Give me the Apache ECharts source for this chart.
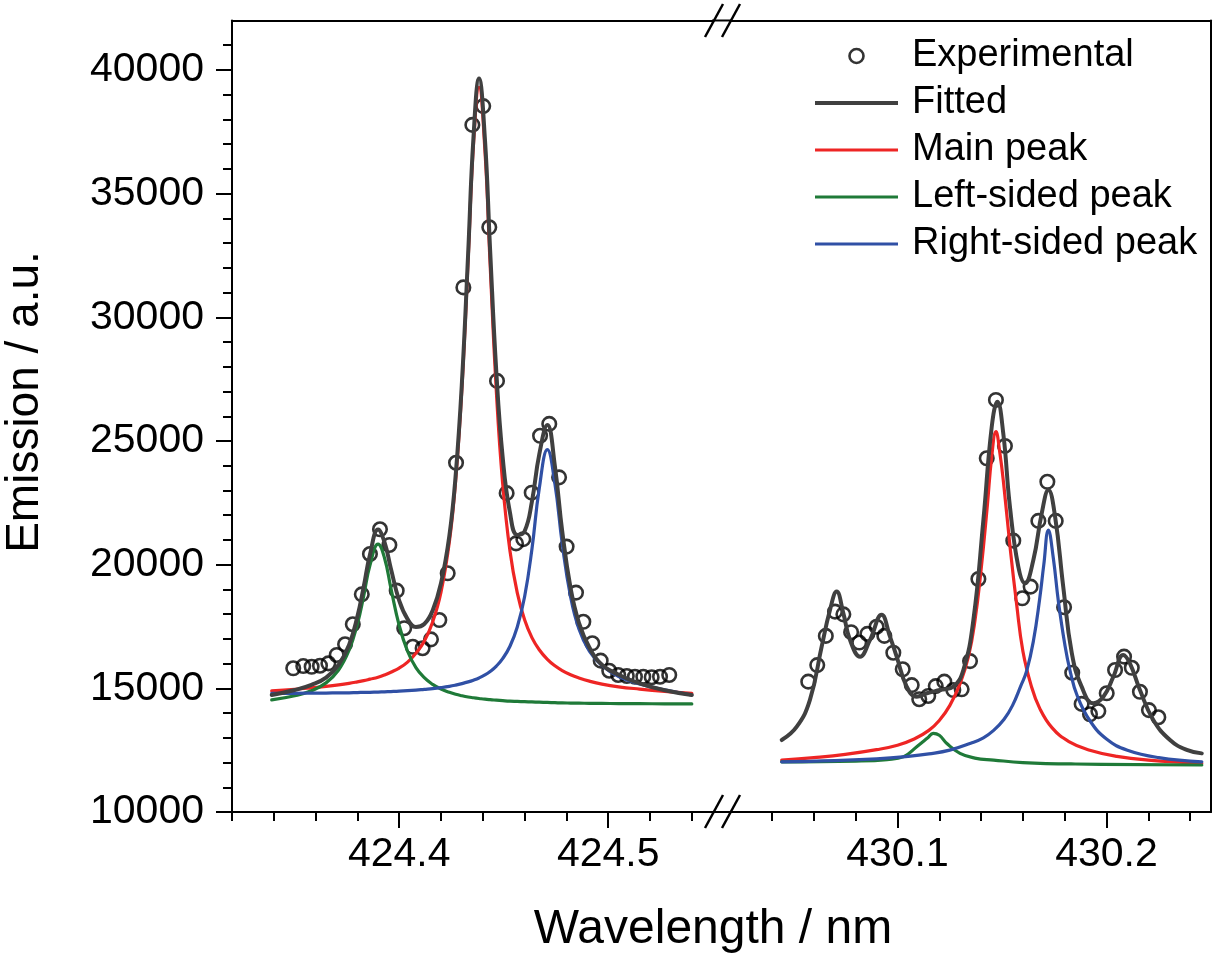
<!DOCTYPE html>
<html><head><meta charset="utf-8">
<script src="https://cdn.jsdelivr.net/npm/echarts@6/dist/echarts.min.js"></script>
<style>html,body{margin:0;padding:0;background:#fff}#c{width:1214px;height:955px}</style>
</head><body><div id="c"></div>
<script>
// ---------- data ----------
const legendNames = ['Experimental', 'Fitted', 'Main peak', 'Left-sided peak', 'Right-sided peak'];

// tick values
const xMajorLeft = [424.4, 424.5];
const xMinorLeft = [424.32, 424.34, 424.36, 424.38, 424.42, 424.44, 424.46, 424.48, 424.52, 424.54];
const xMajorRight = [430.1, 430.2];
const xMinorRight = [430.04, 430.06, 430.08, 430.12, 430.14, 430.16, 430.18, 430.22, 430.24];
const yMajor = [10000, 15000, 20000, 25000, 30000, 35000, 40000];
const yMinor = [11000, 12000, 13000, 14000, 16000, 17000, 18000, 19000, 21000, 22000, 23000, 24000,
  26000, 27000, 28000, 29000, 31000, 32000, 33000, 34000, 36000, 37000, 38000, 39000, 41000];

// experimental points, 424 nm region
const expLeftX = [424.3493, 424.3541, 424.3581, 424.3621, 424.3661, 424.3701, 424.3741, 424.3778, 424.3821, 424.3860,
  424.3908, 424.3953, 424.3988, 424.4024, 424.4065, 424.4112, 424.4152, 424.4192, 424.4232, 424.4272,
  424.4307, 424.4350, 424.4402, 424.4431, 424.4468, 424.4514, 424.4559, 424.4594, 424.4634, 424.4674,
  424.4718, 424.4765, 424.4801, 424.4846, 424.4881, 424.4924, 424.4964, 424.5005, 424.5048, 424.5089,
  424.5128, 424.5168, 424.5208, 424.5248, 424.5292];
const expLeftY = [15810, 15900, 15870, 15915, 16010, 16350, 16780, 17590, 18800, 20430,
  21430, 20795, 18950, 17430, 16680, 16620, 16980, 17760, 19650, 24120,
  31210, 37780, 38540, 33640, 27430, 22890, 20860, 21030, 22910, 25210,
  25690, 23530, 20730, 18870, 17690, 16820, 16120, 15710, 15540, 15500,
  15470, 15470, 15450, 15470, 15540];

// experimental points, 430 nm region
const expRightX = [430.0573, 430.0616, 430.0657, 430.0701, 430.0741, 430.0778, 430.0817, 430.0856, 430.0900, 430.0937,
  430.0980, 430.1025, 430.1068, 430.1104, 430.1147, 430.1183, 430.1224, 430.1267, 430.1307, 430.1347,
  430.1387, 430.1427, 430.1471, 430.1514, 430.1554, 430.1597, 430.1637, 430.1674, 430.1717, 430.1757,
  430.1797, 430.1836, 430.1881, 430.1921, 430.1961, 430.2001, 430.2041, 430.2084, 430.2121, 430.2160,
  430.2203, 430.2248];
const expRightY = [15270, 15940, 17120, 18100, 17990, 17270, 16850, 17200, 17490, 17120,
  16440, 15770, 15130, 14560, 14690, 15090, 15270, 14930, 14960, 16100,
  19420, 24300, 26660, 24800, 20970, 18640, 19110, 21770, 23350, 21770,
  18280, 15630, 14370, 13950, 14080, 14800, 15740, 16280, 15830, 14860,
  14120, 13830];

// curves, 424 nm region (shared wavelength samples)
const curveLeftX = [424.339, 424.350, 424.358, 424.365, 424.371, 424.376, 424.380, 424.383, 424.386, 424.3899,
  424.393, 424.396, 424.400, 424.404, 424.408, 424.412, 424.416, 424.420, 424.424, 424.427,
  424.430, 424.433, 424.4355, 424.4382, 424.441, 424.4435, 424.4465, 424.4495, 424.453, 424.4565,
  424.460, 424.4635, 424.467, 424.4709, 424.4745, 424.478, 424.482, 424.486, 424.491, 424.497,
  424.505, 424.515, 424.527, 424.540];
const fittedLeft = [14730, 14930, 15140, 15430, 15950, 16750, 17900, 19100, 20400, 21420,
  20900, 19850, 18550, 17800, 17480, 17600, 18150, 19250, 21170, 23600,
  27350, 32600, 37220, 39660, 37230, 32730, 27750, 24350, 22100, 21200,
  21350, 22550, 24450, 25650, 23980, 21350, 19050, 17650, 16650, 15950,
  15550, 15200, 14920, 14730];
const mainLeft = [14900, 14960, 15020, 15080, 15140, 15200, 15260, 15310, 15370, 15450,
  15540, 15650, 15820, 16060, 16420, 16900, 17680, 18890, 20920, 23390,
  27120, 32340, 36930, 39300, 36770, 32150, 26970, 23290, 20550, 18860,
  17770, 17050, 16560, 16170, 15910, 15720, 15550, 15420, 15290, 15170,
  15060, 14970, 14880, 14800];
const leftSidedLeft = [14530, 14700, 14900, 15220, 15740, 16540, 17600, 18730, 19970, 20830,
  20260, 19060, 17540, 16500, 15840, 15430, 15160, 14970, 14840, 14760,
  14700, 14650, 14620, 14590, 14560, 14540, 14520, 14500, 14480, 14470,
  14460, 14450, 14440, 14430, 14420, 14410, 14405, 14400, 14395, 14390,
  14385, 14380, 14375, 14370];
const rightSidedLeft = [14800, 14800, 14805, 14810, 14815, 14820, 14830, 14835, 14840, 14850,
  14860, 14870, 14885, 14905, 14930, 14960, 14990, 15030, 15080, 15130,
  15190, 15260, 15330, 15420, 15540, 15680, 15900, 16200, 16700, 17480,
  18700, 20620, 23070, 24650, 23270, 20850, 18700, 17400, 16500, 15920,
  15480, 15180, 14940, 14730];

// curves, 430 nm region
const fittedRightX = [430.0446, 430.0518, 430.0581, 430.0637, 430.0677, 430.0709, 430.0741, 430.0773, 430.0821, 430.0868,
  430.0924, 430.0964, 430.0996, 430.1044, 430.1092, 430.1140, 430.1203, 430.1267, 430.1315, 430.1363,
  430.1411, 430.1451, 430.1478, 430.1506, 430.1538, 430.1578, 430.1610, 430.1650, 430.1690, 430.1722,
  430.1754, 430.1793, 430.1834, 430.1881, 430.1937, 430.1985, 430.2033, 430.2080, 430.2112, 430.2160,
  430.2224, 430.2304, 430.2384, 430.2456];
const fittedRightY = [12910, 13450, 14530, 16680, 18170, 18910, 18030, 16950, 16280, 16950,
  17970, 17090, 16280, 15070, 14660, 14800, 14930, 15070, 15740, 17760,
  21810, 25580, 26590, 25310, 22340, 19920, 19250, 20190, 22070, 23020,
  21940, 19110, 16420, 15070, 14400, 14660, 15470, 16350, 16010, 14930,
  13720, 12910, 12510, 12370];
const mainRightX = [430.0446, 430.060, 430.075, 430.090, 430.100, 430.108, 430.115, 430.120, 430.125, 430.130,
  430.134, 430.137, 430.140, 430.143, 430.145, 430.1471, 430.149, 430.151, 430.154, 430.157,
  430.160, 430.164, 430.168, 430.174, 430.182, 430.192, 430.205, 430.220, 430.2456];
const mainRightY = [12100, 12200, 12330, 12520, 12700, 12950, 13300, 13700, 14300, 15200,
  16300, 17700, 19800, 22400, 24300, 25380, 24500, 23100, 20600, 18400,
  16500, 15100, 14200, 13400, 12850, 12500, 12250, 12100, 11970];
const leftSidedRightX = [430.0446, 430.080, 430.095, 430.103, 430.1092, 430.1145, 430.1171, 430.120, 430.1235, 430.1299,
  430.137, 430.146, 430.160, 430.185, 430.2456];
const leftSidedRightY = [12030, 12060, 12120, 12240, 12640, 13000, 13180, 13100, 12780, 12370,
  12180, 12100, 12000, 11940, 11900];
const rightSidedRightX = [430.0446, 430.070, 430.090, 430.105, 430.115, 430.125, 430.135, 430.1411, 430.146, 430.151,
  430.155, 430.159, 430.1618, 430.165, 430.168, 430.170, 430.1722, 430.1745, 430.177, 430.180,
  430.1826, 430.186, 430.192, 430.200, 430.210, 430.225, 430.2456];
const rightSidedRightY = [12030, 12080, 12150, 12250, 12350, 12500, 12780, 13000, 13300, 13750,
  14300, 15100, 15700, 16900, 18600, 20000, 21400, 20300, 18500, 16800,
  15700, 14700, 13700, 12950, 12500, 12200, 12030];

// ---------- chart ----------
const FONT = "'Liberation Sans', Arial, Helvetica, sans-serif";
const zip = (xs, ys) => xs.map((x, i) => [x, ys[i]]);
const COL = { fit: '#404040', main: '#ee2524', left: '#1f7a38', right: '#3050a5' };
const W_FIT = 4, W_COMP = 3.2;

const gridTop = 20.5, gridH = 791.5, segW = 480.7;
const axisLineStyle = { color: '#000', width: 2 };

function bottomMain(grid, min, max, major) {
  return {
    type: 'value', gridIndex: grid, min, max, position: 'bottom',
    axisLine: { show: true, onZero: false, lineStyle: axisLineStyle },
    axisTick: { show: true, customValues: major, length: 16, lineStyle: { color: '#000', width: 2 } },
    axisLabel: { show: true, customValues: major, fontSize: 41, fontFamily: FONT, color: '#000', margin: 22,
      formatter: v => Number(v).toFixed(1) },
    splitLine: { show: false }
  };
}
function bottomMinor(grid, min, max, minor) {
  return {
    type: 'value', gridIndex: grid, min, max, position: 'bottom',
    axisLine: { show: false, onZero: false },
    axisTick: { show: true, customValues: minor, length: 9, lineStyle: { color: '#000', width: 2 } },
    axisLabel: { show: false }, splitLine: { show: false }
  };
}
function topLine(grid, min, max) {
  return {
    type: 'value', gridIndex: grid, min, max, position: 'top',
    axisLine: { show: true, onZero: false, lineStyle: axisLineStyle },
    axisTick: { show: false }, axisLabel: { show: false }, splitLine: { show: false }
  };
}

const lineSeries = (name, xi, yi, data, color, width) => ({
  name, type: 'line', xAxisIndex: xi, yAxisIndex: yi, data,
  symbol: 'none', smooth: 0.45,
  lineStyle: { color: color, width: width, cap: 'round', join: 'round' }, itemStyle: { color: color },
  emphasis: { disabled: true }, silent: true, animation: false
});
const scatterSeries = (xi, yi, data) => ({
  name: 'Experimental', type: 'scatter', xAxisIndex: xi, yAxisIndex: yi, data,
  symbol: 'circle', symbolSize: 13.5,
  itemStyle: { color: 'rgba(255,255,255,0)', borderColor: '#000', borderWidth: 2.6 },
  emphasis: { disabled: true }, silent: true, animation: false
});

const ICON_THIN = 'path://M0,0H80V3H0Z';
const ICON_THICK = 'path://M0,0H80V4H0Z';

const option = {
  backgroundColor: '#fff',
  animation: false,
  grid: [
    { left: 232, top: gridTop, width: segW, height: gridH },
    { left: 730.3, top: gridTop, width: segW, height: gridH }
  ],
  xAxis: [
    bottomMain(0, 424.32, 424.55, xMajorLeft),
    bottomMinor(0, 424.32, 424.55, xMinorLeft),
    topLine(0, 424.32, 424.55),
    bottomMain(1, 430.02, 430.25, xMajorRight),
    bottomMinor(1, 430.02, 430.25, xMinorRight),
    topLine(1, 430.02, 430.25)
  ],
  yAxis: [
    {
      type: 'value', gridIndex: 0, min: 10000, max: 42000, position: 'left',
      axisLine: { show: true, onZero: false, lineStyle: axisLineStyle },
      axisTick: { show: true, customValues: yMajor, length: 16, lineStyle: { color: '#000', width: 2 } },
      axisLabel: { show: true, customValues: yMajor, fontSize: 41, fontFamily: FONT, color: '#000', margin: 28,
        formatter: v => String(Math.round(v)) },
      splitLine: { show: false }
    },
    {
      type: 'value', gridIndex: 0, min: 10000, max: 42000, position: 'left',
      axisLine: { show: false, onZero: false },
      axisTick: { show: true, customValues: yMinor, length: 9, lineStyle: { color: '#000', width: 2 } },
      axisLabel: { show: false }, splitLine: { show: false }
    },
    {
      type: 'value', gridIndex: 1, min: 10000, max: 42000, position: 'right',
      axisLine: { show: true, onZero: false, lineStyle: axisLineStyle },
      axisTick: { show: false }, axisLabel: { show: false }, splitLine: { show: false }
    }
  ],
  legend: {
    orient: 'vertical', left: 815, top: 36, padding: 0, itemWidth: 83, itemHeight: 14, itemGap: 7,
    selectedMode: false,
    textStyle: { fontSize: 38, fontFamily: FONT, color: '#000', lineHeight: 40, padding: [0, 0, 0, 9] },
    data: [
      { name: legendNames[0], icon: 'circle',
        itemStyle: { color: 'rgba(255,255,255,0)', borderColor: '#000', borderWidth: 2.6 } },
      { name: legendNames[1], icon: ICON_THICK },
      { name: legendNames[2], icon: ICON_THIN },
      { name: legendNames[3], icon: ICON_THIN },
      { name: legendNames[4], icon: ICON_THIN }
    ]
  },
  series: [
    scatterSeries(0, 0, zip(expLeftX, expLeftY)),
    scatterSeries(3, 2, zip(expRightX, expRightY)),
    lineSeries('Main peak', 0, 0, zip(curveLeftX, mainLeft), COL.main, W_COMP),
    lineSeries('Left-sided peak', 0, 0, zip(curveLeftX, leftSidedLeft), COL.left, W_COMP),
    lineSeries('Right-sided peak', 0, 0, zip(curveLeftX, rightSidedLeft), COL.right, W_COMP),
    lineSeries('Fitted', 0, 0, zip(curveLeftX, fittedLeft), COL.fit, W_FIT),
    lineSeries('Main peak', 3, 2, zip(mainRightX, mainRightY), COL.main, W_COMP),
    lineSeries('Left-sided peak', 3, 2, zip(leftSidedRightX, leftSidedRightY), COL.left, W_COMP),
    lineSeries('Right-sided peak', 3, 2, zip(rightSidedRightX, rightSidedRightY), COL.right, W_COMP),
    lineSeries('Fitted', 3, 2, zip(fittedRightX, fittedRightY), COL.fit, W_FIT)
  ],
  graphic: [
    // axis line across the break
    { type: 'line', silent: true, shape: { x1: 712, y1: 20.5, x2: 731, y2: 20.5 }, style: { stroke: '#000', lineWidth: 2 } },
    { type: 'line', silent: true, shape: { x1: 712, y1: 812, x2: 731, y2: 812 }, style: { stroke: '#000', lineWidth: 2 } },
    // break marks //
    { type: 'line', silent: true, shape: { x1: 705, y1: 37, x2: 723, y2: 4 }, style: { stroke: '#000', lineWidth: 2.5 } },
    { type: 'line', silent: true, shape: { x1: 722, y1: 37, x2: 740, y2: 4 }, style: { stroke: '#000', lineWidth: 2.5 } },
    { type: 'line', silent: true, shape: { x1: 705, y1: 828, x2: 723, y2: 795 }, style: { stroke: '#000', lineWidth: 2.5 } },
    { type: 'line', silent: true, shape: { x1: 722, y1: 828, x2: 740, y2: 795 }, style: { stroke: '#000', lineWidth: 2.5 } },
    // axis titles
    { type: 'text', silent: true, x: 25, y: 402, rotation: Math.PI / 2,
      style: { text: 'Emission / a.u.', fontSize: 46, fontFamily: FONT, fill: '#000',
        align: 'center', verticalAlign: 'middle', textAlign: 'center', textVerticalAlign: 'middle' } },
    { type: 'text', silent: true, x: 713, y: 930,
      style: { text: 'Wavelength / nm', fontSize: 48, fontFamily: FONT, fill: '#000',
        align: 'center', verticalAlign: 'middle', textAlign: 'center', textVerticalAlign: 'middle' } }
  ]
};

const chart = echarts.init(document.getElementById('c'), null, { renderer: 'canvas' });
chart.setOption(option);
</script>
</body></html>
